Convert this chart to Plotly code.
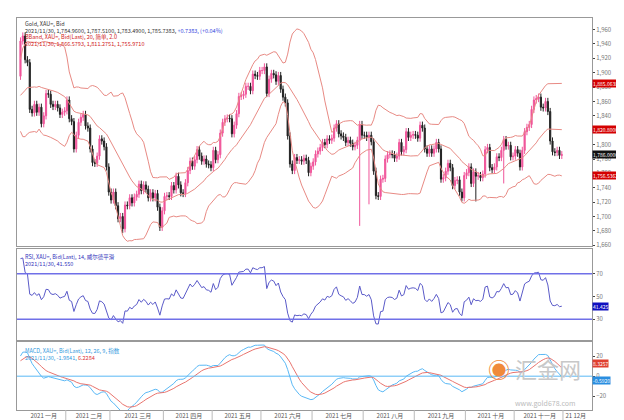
import numpy as np
import pandas as pd
import plotly.graph_objects as go
from plotly.subplots import make_subplots

# Dec 2020 closes, only used to warm up the indicators
warmup = [1812, 1830, 1838, 1867, 1862, 1839, 1836, 1838, 1856, 1853, 1827, 1860,
          1864, 1881, 1888, 1880, 1870, 1874, 1878, 1880, 1877, 1895]

# daily closes, Jan - Nov 2021
jan = [1944, 1951, 1918, 1914, 1849, 1844, 1856, 1845, 1852, 1829, 1840, 1871, 1870,
       1856, 1853, 1856, 1851, 1842, 1845, 1847]
feb = [1862, 1836, 1832, 1794, 1813, 1831, 1838, 1842, 1826, 1823, 1794, 1775, 1774,
       1784, 1808, 1805, 1797, 1769, 1734]
mar = [1723, 1734, 1715, 1697, 1700, 1683, 1716, 1715, 1726, 1719, 1727, 1731, 1745,
       1736, 1744, 1738, 1726, 1733, 1726, 1732, 1713, 1685, 1708]
apr = [1728, 1729, 1728, 1743, 1737, 1756, 1744, 1733, 1732, 1747, 1764, 1777, 1770,
       1779, 1793, 1784, 1777, 1780, 1773, 1772, 1768]
may = [1792, 1779, 1786, 1816, 1831, 1836, 1837, 1836, 1815, 1827, 1843, 1867, 1868,
       1870, 1881, 1881, 1875, 1898, 1896, 1895, 1903]
jun = [1903, 1908, 1871, 1891, 1899, 1897, 1888, 1896, 1877, 1866, 1858, 1812, 1773,
       1764, 1782, 1778, 1779, 1777, 1781, 1778, 1761, 1770]
jul = [1776, 1787, 1791, 1796, 1803, 1800, 1808, 1806, 1809, 1823, 1829, 1815, 1812,
       1810, 1803, 1806, 1802, 1797, 1799, 1806, 1828, 1813]
aug = [1813, 1810, 1813, 1804, 1763, 1729, 1728, 1752, 1753, 1780, 1786, 1787, 1786,
       1781, 1784, 1803, 1790, 1793, 1818, 1810, 1813, 1814]
sep = [1813, 1809, 1827, 1823, 1794, 1788, 1794, 1788, 1794, 1803, 1794, 1752, 1754,
       1763, 1774, 1768, 1743, 1750, 1751, 1734, 1726, 1757]
oct_ = [1761, 1769, 1746, 1762, 1756, 1757, 1754, 1759, 1793, 1796, 1768, 1765, 1769,
        1783, 1782, 1792, 1807, 1798, 1799, 1783, 1784]
nov = [1793, 1788, 1769, 1792, 1818, 1824, 1828, 1849, 1862, 1864, 1866, 1852, 1851,
       1860, 1846, 1805, 1790, 1789, 1792, 1785, 1786]

months = [jan, feb, mar, apr, may, jun, jul, aug, sep, oct_, nov]
month_labels = ["2021 一月", "2021 二月", "2021 三月", "2021 四月", "2021 五月", "2021 六月",
                "2021 七月", "2021 八月", "2021 九月", "2021 十月", "2021 十一月", "21 12月"]

# extra long lower wicks (index in 2021 series -> low)
spike_lows = {44: 1677, 146: 1687, 150: 1717, 196: 1721, 208: 1746}

closes = [c for m in months for c in m]
allc = pd.Series(warmup + closes, dtype=float)
n0 = len(warmup)

# indicators
mid = allc.rolling(20).mean()
sd = allc.rolling(20).std(ddof=0)
upper = mid + 2 * sd
lower = mid - 2 * sd

delta = allc.diff()
gain = delta.clip(lower=0).ewm(alpha=1 / 14, adjust=False).mean()
loss = (-delta.clip(upper=0)).ewm(alpha=1 / 14, adjust=False).mean()
rsi = 100 - 100 / (1 + gain / loss)

macd = allc.ewm(span=12, adjust=False).mean() - allc.ewm(span=26, adjust=False).mean()
signal = macd.ewm(span=9, adjust=False).mean()

x = np.arange(len(closes))
opens = [allc[n0 - 1]] + closes[:-1]
highs = [max(o, c) + 5 for o, c in zip(opens, closes)]
lows = [min(o, c) - 5 for o, c in zip(opens, closes)]
for i, v in spike_lows.items():
    lows[i] = v

sl = slice(n0, None)

fig = make_subplots(rows=3, cols=1, shared_xaxes=True, vertical_spacing=0.007,
                    row_heights=[0.59, 0.235, 0.175])

fig.add_trace(go.Candlestick(x=x, open=opens, high=highs, low=lows, close=closes,
                             increasing=dict(line=dict(color="#f0559a", width=1), fillcolor="#f0559a"),
                             decreasing=dict(line=dict(color="#222222", width=1), fillcolor="#222222"),
                             whiskerwidth=0, showlegend=False), row=1, col=1)
for s in [upper, mid, lower]:
    fig.add_trace(go.Scatter(x=x, y=s[sl].values, mode="lines",
                             line=dict(color="#e88a84", width=1), showlegend=False), row=1, col=1)

fig.add_trace(go.Scatter(x=x, y=rsi[sl].values, mode="lines",
                         line=dict(color="#5a5ac8", width=1), showlegend=False), row=2, col=1)
for lv in [70, 30]:
    fig.add_hline(y=lv, line=dict(color="#7070e8", width=1.5), row=2, col=1)

fig.add_trace(go.Scatter(x=x, y=macd[sl].values, mode="lines",
                         line=dict(color="#5ab8f5", width=1), showlegend=False), row=3, col=1)
fig.add_trace(go.Scatter(x=x, y=signal[sl].values, mode="lines",
                         line=dict(color="#e8746e", width=1), showlegend=False), row=3, col=1)
fig.add_hline(y=0, line=dict(color="#5ab8f5", width=1), row=3, col=1)

# month labels centred in each month, separators at month starts
starts = np.cumsum([0] + [len(m) for m in months])
centres = [(a + b) / 2 for a, b in zip(starts[:-1], starts[1:])] + [starts[-1] + 5]
ax = dict(showgrid=False, showline=True, linecolor="#999", mirror=True, zeroline=False)
fig.update_xaxes(**ax, range=[-1.5, len(closes) + 12], rangeslider_visible=False,
                 tickvals=centres, ticktext=month_labels, tickfont=dict(size=6, color="#555"),
                 ticks="")
fig.update_xaxes(showticklabels=False, row=1, col=1)
fig.update_xaxes(showticklabels=False, row=2, col=1)
for s0 in starts[1:]:
    fig.add_shape(type="line", x0=s0 - 0.5, x1=s0 - 0.5, y0=-0.035, y1=0, xref="x3", yref="paper",
                  line=dict(color="#bbb", width=1))
fig.update_yaxes(**ax, side="right", tickfont=dict(size=6, color="#777"), ticks="outside", ticklen=2)
fig.update_yaxes(range=[1659, 1976], dtick=20, tickformat=",", row=1, col=1)
fig.update_yaxes(range=[12, 92], tickvals=[30, 50, 70], row=2, col=1)
fig.update_yaxes(range=[-34, 34], tickvals=[-20, 0, 20], row=3, col=1)

# last value tags on the right
last = len(closes) + n0 - 1
tags = [(upper[last], "#d40000", "y", ",.4f", 0), (mid[last], "#d40000", "y", ",.4f", 0),
        (lower[last], "#d40000", "y", ",.4f", 0), (allc[last], "#111111", "y", ",.4f", 0),
        (rsi[last], "#1010c0", "y2", ".3f", 0), (signal[last], "#e04030", "y3", ".4f", 4),
        (macd[last], "#2a8ee0", "y3", ".4f", -4)]
for val, col, yr, fmt, shift in tags:
    fig.add_annotation(x=1.0, xref="paper", y=val, yref=yr, text=format(val, fmt), showarrow=False,
                       xanchor="left", font=dict(size=5, color="white"), bgcolor=col, borderpad=0,
                       yshift=shift)

# header texts
def note(y, text, color):
    fig.add_annotation(x=0.01, xref="paper", y=y, yref="paper", text=text, showarrow=False,
                       xanchor="left", yanchor="top", font=dict(size=5.5, color=color))

note(1.0, "Gold, XAU=, Bid", "#333")
note(0.983, "2021/11/30, 1,784.9600, 1,787.5100, 1,783.4900, 1,785.7383, "
     "<span style='color:#3344dd'>+0.7383, (+0.04%)</span>", "#333")
note(0.966, "BBand, XAU=, Bid(Last), 20, 简单, 2.0", "#d02020")
note(0.949, "2021/11/30, 1,866.5793, 1,811.2751, 1,755.9710", "#d02020")
note(0.405, "RSI, XAU=, Bid(Last), 14, 威尔德平滑", "#3333bb")
note(0.388, "2021/11/30, 41.550", "#3333bb")
note(0.165, "MACD, XAU=, Bid(Last), 12, 26, 9, 指数", "#3399dd")
note(0.148, "2021/11/30, -1.9841, <span style='color:#dd3333'>6.2284</span>", "#3399dd")

# watermark
fig.add_annotation(x=0.985, xref="paper", y=0.06, yref="paper", showarrow=False,
                   text="<span style='color:#f08a3a'>◉</span> 汇金网", xanchor="right",
                   font=dict(size=22, color="#c8c8c8", family="Noto Sans CJK SC"))
fig.add_annotation(x=0.975, xref="paper", y=0.0, yref="paper", showarrow=False,
                   text="www.gold678.com", xanchor="right", font=dict(size=7, color="#bbb"))

fig.update_layout(width=624, height=420, margin=dict(l=8, r=40, t=10, b=16),
                  plot_bgcolor="white", paper_bgcolor="white",
                  font=dict(family="Noto Sans CJK SC"))

fig.write_html("out.html")
